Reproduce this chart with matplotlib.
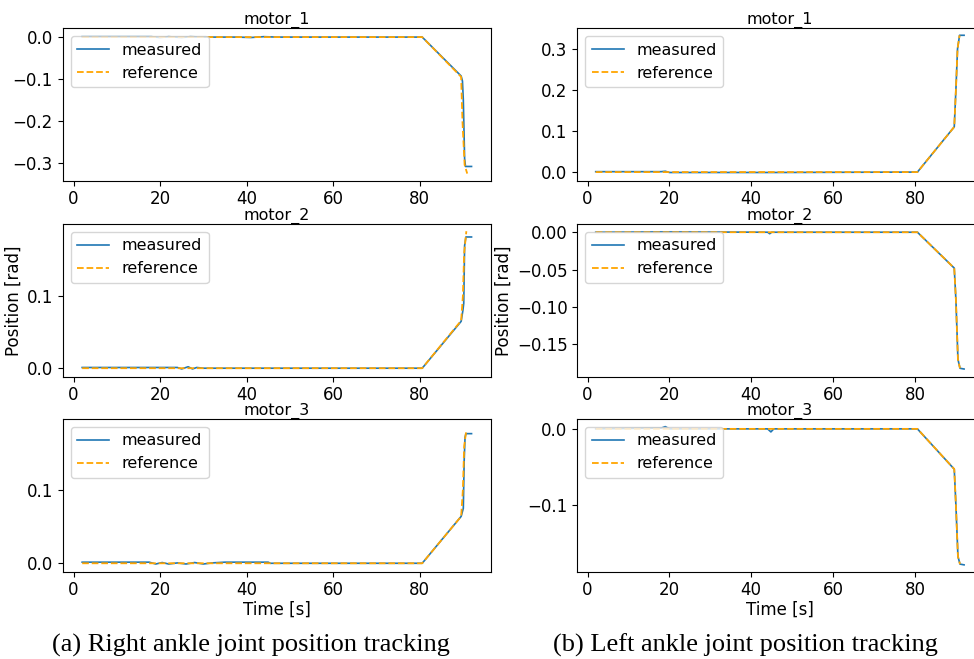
import matplotlib
matplotlib.use("Agg")
import matplotlib.pyplot as plt

plt.rcParams["font.family"] = ["DejaVu Sans"]

# ---- Right ankle (column a) ----
ra1_t_ref = [2.0, 80.6, 89.6, 89.9, 90.4, 91.0]
ra1_ref = [0.0, 0.0, -0.095, -0.20, -0.305, -0.326]
ra1_t_meas = [2.0, 18.0, 20.0, 22.0, 25.0, 27.0, 30.0, 38.0, 41.0, 44.0, 47.0, 80.6, 89.6, 89.9, 90.1, 90.4, 90.6, 92.0]
ra1_meas = [0.001, 0.001, -0.001, 0.001, -0.001, 0.001, 0.0, 0.0, -0.001, 0.001, 0.0, 0.0, -0.093, -0.105, -0.15, -0.29, -0.309, -0.309]

ra2_t_ref = [2.0, 80.6, 89.6, 90.0, 90.3, 90.8]
ra2_ref = [0.0, 0.0, 0.066, 0.10, 0.16, 0.19]
ra2_t_meas = [2.0, 24.0, 25.0, 26.5, 27.5, 28.5, 30.0, 45.0, 80.6, 89.6, 90.0, 90.2, 90.4, 90.7, 92.0]
ra2_meas = [0.001, 0.001, -0.001, 0.002, -0.001, 0.001, 0.0, 0.0, 0.0, 0.065, 0.08, 0.09, 0.17, 0.182, 0.182]

ra3_t_ref = [2.0, 80.6, 89.6, 90.0, 90.3, 90.8]
ra3_ref = [0.0, 0.0, 0.064, 0.10, 0.16, 0.182]
ra3_t_meas = [2.0, 17.5, 19.0, 20.5, 22.0, 24.0, 26.0, 28.0, 30.0, 32.0, 35.0, 45.0, 45.5, 80.6, 89.6, 90.1, 90.3, 90.5, 90.7, 92.0]
ra3_meas = [0.0015, 0.0015, -0.001, 0.001, -0.001, 0.0005, -0.001, 0.001, -0.001, 0.0005, 0.0015, 0.0015, 0.0, 0.0, 0.064, 0.075, 0.14, 0.172, 0.177, 0.177]

# ---- Left ankle (column b) ----
la1_t_ref = [2.0, 80.6, 89.6, 90.0, 90.4, 90.9]
la1_ref = [0.0, 0.0, 0.11, 0.20, 0.30, 0.333]
la1_t_meas = [2.0, 18.0, 19.0, 20.0, 45.0, 80.6, 89.6, 90.0, 90.4, 90.9, 92.0]
la1_meas = [0.001, 0.001, 0.002, -0.001, -0.001, 0.0, 0.11, 0.20, 0.30, 0.333, 0.333]

la2_t_ref = [2.0, 80.6, 89.6, 90.0, 90.5, 91.0]
la2_ref = [0.0, 0.0, -0.048, -0.09, -0.17, -0.182]
la2_t_meas = [2.0, 18.0, 44.0, 44.5, 45.0, 80.6, 89.6, 90.0, 90.5, 91.0, 92.0]
la2_meas = [0.0, 0.0005, 0.0, -0.002, 0.0, 0.0, -0.048, -0.09, -0.17, -0.182, -0.183]

la3_t_ref = [2.0, 80.6, 89.6, 90.0, 90.5, 91.0]
la3_ref = [0.0, 0.0, -0.053, -0.10, -0.168, -0.178]
la3_t_meas = [2.0, 18.0, 19.0, 20.0, 44.0, 44.8, 45.5, 80.6, 89.6, 90.0, 90.5, 91.0, 92.0]
la3_meas = [0.0, 0.001, 0.003, 0.0, 0.0, -0.004, 0.0, 0.0, -0.053, -0.10, -0.168, -0.178, -0.179]

x_ticks = [0, 20, 40, 60, 80]
titles = ["motor_1", "motor_2", "motor_3"]
caption_a = "(a) Right ankle joint position tracking"
caption_b = "(b) Left ankle joint position tracking"

panels = [
    [(ra1_t_meas, ra1_meas, ra1_t_ref, ra1_ref, (-0.343, 0.021), [0.0, -0.1, -0.2, -0.3], "{:.1f}"),
     (ra2_t_meas, ra2_meas, ra2_t_ref, ra2_ref, (-0.0115, 0.2), [0.0, 0.1], "{:.1f}"),
     (ra3_t_meas, ra3_meas, ra3_t_ref, ra3_ref, (-0.0115, 0.197), [0.0, 0.1], "{:.1f}")],
    [(la1_t_meas, la1_meas, la1_t_ref, la1_ref, (-0.021, 0.35), [0.0, 0.1, 0.2, 0.3], "{:.1f}"),
     (la2_t_meas, la2_meas, la2_t_ref, la2_ref, (-0.193, 0.011), [0.0, -0.05, -0.10, -0.15], "{:.2f}"),
     (la3_t_meas, la3_meas, la3_t_ref, la3_ref, (-0.188, 0.013), [0.0, -0.1], "{:.1f}")],
]

W, H = 974, 659
fig = plt.figure(figsize=(W / 100, H / 100), dpi=100)

col_x = [(62.7, 491.0), (577.3, 982.5)]
row_y = [(28.3, 180.7), (224.0, 376.5), (419.0, 571.7)]
fs = 12

axes = {}
for c, (x0, x1) in enumerate(col_x):
    for r, (y0, y1) in enumerate(row_y):
        ax = fig.add_axes([x0 / W, 1 - y1 / H, (x1 - x0) / W, (y1 - y0) / H])
        tm, m, tr, rf, ylim, yt, fmt = panels[c][r]
        ax.plot(tm, m, color="#1f77b4", lw=1.2, label="measured")
        ax.plot(tr, rf, color="orange", lw=1.3, ls="--", label="reference")
        ax.set_xlim(-2.5, 96.5)
        ax.set_ylim(*ylim)
        ax.set_xticks(x_ticks)
        ax.set_yticks(yt)
        ax.set_yticklabels([fmt.format(v).replace("-", "\u2212") for v in yt])
        ax.tick_params(labelsize=fs)
        ax.set_title(titles[r], fontsize=11.5, pad=3)
        ax.legend(loc="upper left", fontsize=11.5)
        axes[(c, r)] = ax

for c in range(2):
    axes[(c, 2)].set_xlabel("Time [s]", fontsize=fs, labelpad=1)
    axes[(c, 1)].set_ylabel("Position [rad]", fontsize=fs, labelpad=3)

fig.text(251 / W, 1 - 645 / H, caption_a, ha="center", va="center",
         family="Liberation Serif", fontsize=19)
fig.text(745 / W, 1 - 645 / H, caption_b, ha="center", va="center",
         family="Liberation Serif", fontsize=19)

fig.savefig("out.png", dpi=100)
